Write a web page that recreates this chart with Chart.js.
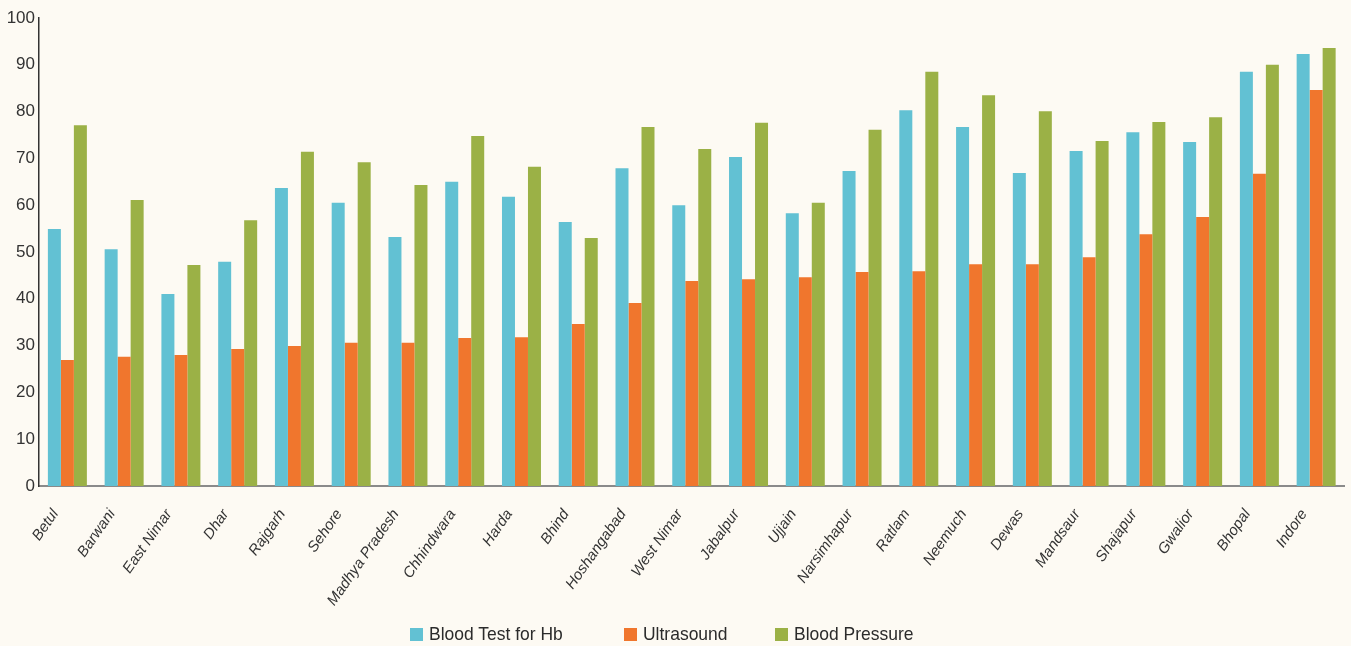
<!DOCTYPE html>
<html>
<head>
<meta charset="utf-8">
<script src="https://cdn.jsdelivr.net/npm/chart.js@4.4.0/dist/chart.umd.min.js"></script>
<style>
  html, body { margin: 0; padding: 0; background: #FDFAF3; }
  #wrap { position: relative; width: 1351px; height: 646px; }
  .item {
    position: absolute; top: 624px; height: 20px; display: flex; align-items: center;
    font: 19px "Liberation Sans", Arial, sans-serif; color: #2b2b2b;
  }
  .swatch { width: 13px; height: 13px; margin-right: 6px; flex: none; }
  .label { display: inline-block; transform: scaleX(0.92); transform-origin: left center; white-space: nowrap; }
</style>
</head>
<body>
<div id="wrap">
  <canvas id="chart" width="1351" height="646"></canvas>
</div>
<script>
const districts = ['Betul', 'Barwani', 'East Nimar', 'Dhar', 'Rajgarh', 'Sehore', 'Madhya Pradesh',
  'Chhindwara', 'Harda', 'Bhind', 'Hoshangabad', 'West Nimar', 'Jabalpur', 'Ujjain', 'Narsimhapur',
  'Ratlam', 'Neemuch', 'Dewas', 'Mandsaur', 'Shajapur', 'Gwalior', 'Bhopal', 'Indore'];

const bloodTestHb = [54.9, 50.6, 41.0, 47.9, 63.7, 60.5, 53.2, 65.0, 61.8, 56.4, 67.9, 60.0,
  70.3, 58.3, 67.3, 80.3, 76.7, 66.9, 71.6, 75.6, 73.5, 88.5, 92.3];
const ultrasound = [26.9, 27.6, 28.0, 29.3, 29.9, 30.6, 30.6, 31.6, 31.8, 34.6, 39.1, 43.8,
  44.2, 44.6, 45.7, 45.9, 47.4, 47.4, 48.9, 53.8, 57.5, 66.7, 84.6];
const bloodPressure = [77.1, 61.1, 47.2, 56.8, 71.4, 69.2, 64.3, 74.8, 68.2, 53.0, 76.7, 72.0,
  77.6, 60.5, 76.1, 88.5, 83.5, 80.1, 73.7, 77.8, 78.8, 90.0, 93.6];

const seriesNames = ['Blood Test for Hb', 'Ultrasound', 'Blood Pressure'];
const seriesColors = ['#62C1D3', '#F0762D', '#9BB146'];
const yTicks = [0, 10, 20, 30, 40, 50, 60, 70, 80, 90, 100];

const textColor = '#333333';
const family = '"Liberation Sans", Arial, sans-serif';

const ctx = document.getElementById('chart').getContext('2d');
new Chart(ctx, {
  type: 'bar',
  data: {
    labels: districts,
    datasets: [bloodTestHb, ultrasound, bloodPressure].map((values, i) => ({
      label: seriesNames[i],
      data: values,
      backgroundColor: seriesColors[i],
      borderWidth: 0,
      categoryPercentage: 0.687,
      barPercentage: 1
    }))
  },
  options: {
    responsive: false,
    animation: false,
    layout: { padding: { left: 0, right: 5, top: 18, bottom: 0 } },
    plugins: {
      legend: { display: false },
      tooltip: { enabled: false }
    },
    scales: {
      x: {
        grid: { display: false, drawTicks: false },
        border: { color: '#8a8a8a', width: 2 },
        ticks: {
          color: textColor,
          font: { family: family, size: 15, style: 'italic' },
          minRotation: 55,
          maxRotation: 55,
          autoSkip: false,
          labelOffset: -12,
          padding: 20
        },
        afterFit: (scale) => { scale.height = 160; }
      },
      y: {
        min: 0,
        max: 100,
        afterBuildTicks: (scale) => { scale.ticks = yTicks.map(v => ({ value: v })); },
        grid: { display: false, drawTicks: false },
        border: { color: '#333333', width: 1.5 },
        ticks: {
          color: textColor,
          font: { family: family, size: 17 },
          padding: 4
        },
        afterFit: (scale) => { scale.width = 39; }
      }
    }
  }
});

// legend drawn in html: the gaps between items in the original are uneven
const legendLeft = [410, 624, 775];
const wrap = document.getElementById('wrap');
seriesNames.forEach((name, i) => {
  const item = document.createElement('div');
  item.className = 'item';
  item.style.left = legendLeft[i] + 'px';
  const sw = document.createElement('span');
  sw.className = 'swatch';
  sw.style.background = seriesColors[i];
  const txt = document.createElement('span');
  txt.className = 'label';
  txt.textContent = name;
  item.appendChild(sw);
  item.appendChild(txt);
  wrap.appendChild(item);
});
</script>
</body>
</html>
